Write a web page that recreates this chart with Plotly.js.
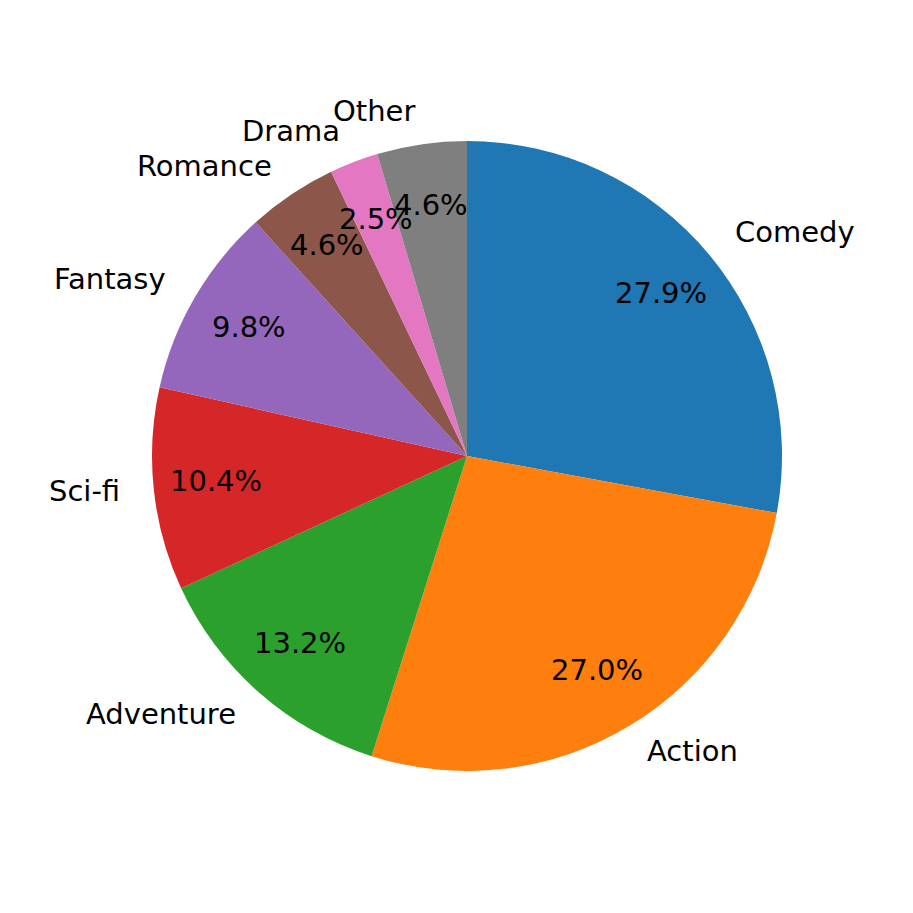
<!DOCTYPE html>
<html>
<head>
<meta charset="utf-8">
<script src="https://cdn.plot.ly/plotly-3.0.1.min.js"></script>
<style>
	html, body { margin: 0; padding: 0; background: #ffffff; }
	#chart { width: 913px; height: 913px; }
</style>
</head>
<body>
<div id="chart"></div>
<script>
// genre shares, clockwise from 12 o'clock
const genres = ['Comedy', 'Action', 'Adventure', 'Sci-fi', 'Fantasy', 'Romance', 'Drama', 'Other'];
const shares = [27.9, 27.0, 13.2, 10.4, 9.8, 4.6, 2.5, 4.6];
const colors = ['#1f77b4', '#ff7f0e', '#2ca02c', '#d62728', '#9467bd', '#8c564b', '#e377c2', '#7f7f7f'];

const W = 913, H = 913;
const cx = 467, cy = 456, R = 315;   // pie geometry in pixels
const labelDist = 1.1, pctDist = 0.8;
const font = { family: 'DejaVu Sans', size: 29, color: '#000000' };

// place text the way matplotlib does: label at 1.1 r, percent at 0.8 r
function buildAnnotations() {
	const total = shares.reduce((a, b) => a + b, 0);
	const notes = [];
	let cum = 0;
	for (let i = 0; i < shares.length; i++) {
		const mid = (cum + shares[i] / 2) / total * 2 * Math.PI;
		cum += shares[i];
		const sx = Math.sin(mid), cy_ = Math.cos(mid);

		const lx = cx + labelDist * R * sx;
		const ly = cy - labelDist * R * cy_;
		notes.push({
			x: lx / W, y: 1 - ly / H, xref: 'paper', yref: 'paper',
			text: genres[i], showarrow: false, font: font, yshift: 2,
			xanchor: sx > 0 ? 'left' : 'right', yanchor: 'middle'
		});

		const px = cx + pctDist * R * sx;
		const py = cy - pctDist * R * cy_;
		notes.push({
			x: px / W, y: 1 - py / H, xref: 'paper', yref: 'paper',
			text: (shares[i] / total * 100).toFixed(1) + '%', showarrow: false, font: font, yshift: 2,
			xanchor: 'center', yanchor: 'middle'
		});
	}
	return notes;
}

window.onload = function () {
	Plotly.newPlot('chart', [{
		type: 'pie',
		labels: genres,
		values: shares,
		sort: false,
		direction: 'clockwise',
		rotation: 0,
		marker: { colors: colors, line: { width: 0 } },
		textinfo: 'none',
		hoverinfo: 'none',
		showlegend: false,
		domain: { x: [(cx - R) / W, (cx + R) / W], y: [1 - (cy + R) / H, 1 - (cy - R) / H] }
	}], {
		width: W,
		height: H,
		margin: { l: 0, r: 0, t: 0, b: 0 },
		paper_bgcolor: '#ffffff',
		showlegend: false,
		annotations: buildAnnotations()
	}, { displayModeBar: false, staticPlot: true });
};
</script>
</body>
</html>
